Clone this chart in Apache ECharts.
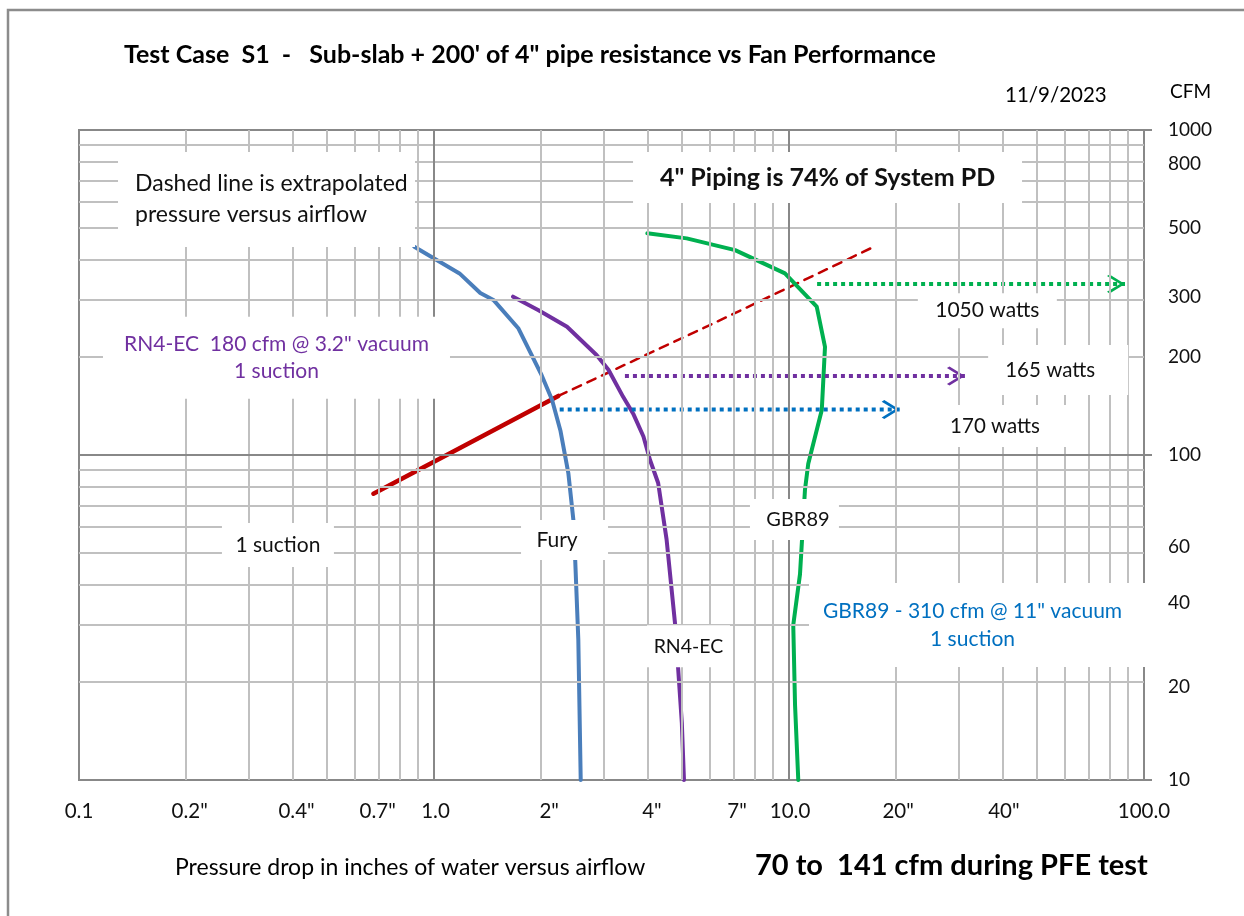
<!DOCTYPE html>
<html><head><meta charset="utf-8">
<script src="https://cdn.jsdelivr.net/npm/echarts@6/dist/echarts.min.js"></script>
<style>html,body{margin:0;padding:0;background:#fff}#c{width:1244px;height:916px}</style>
</head><body><div id="c"></div>
<script>
// ---- data (pressure in inches of water, airflow in CFM) ----
const furyPressure = [0.88, 1.18, 1.35, 1.47, 1.73, 2.01, 2.15, 2.27, 2.39, 2.47, 2.50, 2.55, 2.59];
const furyCfm      = [437, 362, 315, 300, 245, 176, 148, 119, 88, 63, 47, 27, 10];
const rn4Pressure  = [1.67, 1.97, 2.37, 2.87, 3.10, 3.41, 3.64, 3.89, 4.06, 4.28, 4.52, 4.78, 4.99, 5.06];
const rn4Cfm       = [307, 279, 248, 203, 183, 151, 134, 114, 96.5, 82, 55, 30, 15, 10];
const gbrPressure  = [3.99, 5.15, 7.05, 9.74, 11.97, 12.63, 12.37, 11.33, 11.09, 10.74, 10.28, 10.40, 10.62];
const gbrCfm       = [481, 464, 427, 362, 286, 215, 137.5, 94, 78, 43, 30, 17, 10];
const systemPressure = [0.675, 2.24];
const systemCfm      = [76, 152];
const extrapPressure = [2.24, 6.12, 17.25];
const extrapCfm      = [152, 254, 436];
// watt arrows: [startPressure, endPressure, cfm]
const gbrArrow  = [12.0, 88.4, 336];
const rn4Arrow  = [3.45, 31.3, 175];
const furyArrow = [2.26, 20.5, 138];
// axis tick labels
const xTickText = ['0.1', '0.2"', '0.4"', '0.7"', '1.0', '2"', '4"', '7"', '10.0', '20"', '40"', '100.0'];
const xTickAt   = [0.1, 0.205, 0.41, 0.694, 1.01, 2.11, 4.11, 7.14, 10.07, 20.3, 40.3, 100];
const yTickText = ['1000', '800', '500', '300', '200', '100', '60', '40', '20', '10'];
const yTickAt   = [1000, 786, 499, 306, 200, 100, 52.1, 35.0, 19.3, 10];
const xMinor = [0.2,0.3,0.4,0.5,0.6,0.7,0.8,0.9,2,3,4,5,6,7,8,9,20,30,40,50,60,70,80,90];
const xMajor = [1, 10];
const yMinor = [20,30,40,50,60,70,80,90,200,300,400,500,600,700,800,900];
const yMajor = [100];
// annotation texts and where they sit (pressure, cfm)
const noteText = [
  'Dashed line is extrapolated\npressure versus airflow',
  '4" Piping is 74% of System PD',
  'RN4-EC  180 cfm @ 3.2" vacuum\n1 suction',
  '1 suction', 'Fury', 'RN4-EC', 'GBR89',
  'GBR89 - 310 cfm @ 11" vacuum\n1 suction',
  '1050 watts', '165 watts', '170 watts'
];
const noteAt = [
  [0.1288, 611], [12.84, 714], [0.360, 199], [0.3634, 52.9], [2.332, 54.8],
  [5.21, 25.8], [10.36, 63.3], [34.3, 30.0], [36.2, 278], [57.3, 182.6], [40.6, 122.8]
];

// ---- styles ----
const FONT = 'Lato, "Open Sans", sans-serif';
const C = {blue:'#4a7ebb', purple:'#7030a0', green:'#00b050', red:'#c00000', dBlue:'#0070c0', grid:'#c0c0c0', dark:'#888888'};
const noteStyle = [
  {align:'left', padding:[21,0,12,17], width:280, fontSize:23, lineHeight:31},
  {align:'center', padding:[13,0,12,0], width:389, fontSize:25, lineHeight:26, fontWeight:'bold'},
  {align:'center', padding:[14,0,14,0], width:347, fontSize:21, lineHeight:27, color:C.purple},
  {align:'center', padding:[12,0,8,0], width:112, fontSize:21, lineHeight:24},
  {align:'center', padding:[13,15,3,0], width:72, fontSize:21, lineHeight:24},
  {align:'center', padding:[13,0,5,0], width:83, fontSize:19.5, lineHeight:24},
  {align:'center', padding:[11,0,6,7], width:82, fontSize:20, lineHeight:24},
  {align:'center', padding:[14,13,14,0], width:327, fontSize:21, lineHeight:28, color:C.dBlue},
  {align:'center', padding:[6,0,5,0], width:139, fontSize:21, lineHeight:24},
  {align:'center', padding:[20,16,6,0], width:124, fontSize:20.5, lineHeight:24},
  {align:'center', padding:[13,20,5,0], width:120, fontSize:20.5, lineHeight:24}
];

const zip = (xs, ys) => xs.map((x, i) => [x, ys[i]]);
const ARROW = 'path://M0,1.6 L2.6,0 L18,9.5 L2.6,19 L0,17.4 L13,9.5 Z';
function arrowSeries(a, color) {
  return {
    type:'line', z:4, silent:true, symbol:'none', animation:false,
    lineStyle:{color, width:4, type:[4,4]},
    data:[[a[0], a[2]], {value:[a[1], a[2]], symbol:ARROW, symbolSize:[18,19], symbolOffset:[-9,0], itemStyle:{color, opacity:1}}]
  };
}
function curve(xs, ys, color, width, dash) {
  return {type:'line', z:3, silent:true, symbol:'none', animation:false,
    lineStyle:{color, width, type: dash || 'solid', cap:'round', join:'round'}, data: zip(xs, ys)};
}
const gridLines = [];
const gl = (color) => ({color, width:2, type:'solid', opacity:1});
xMinor.forEach(v => gridLines.push({xAxis:v, lineStyle:gl(C.grid)}));
yMinor.forEach(v => gridLines.push({yAxis:v, lineStyle:gl(C.grid)}));
xMajor.forEach(v => gridLines.push({xAxis:v, lineStyle:gl(C.dark)}));
yMajor.forEach(v => gridLines.push({yAxis:v, lineStyle:gl(C.dark)}));

const labelScatter = (data) => ({type:'scatter', z:10, silent:true, clip:false, symbolSize:0,
  itemStyle:{opacity:1}, data});

const chart = echarts.init(document.getElementById('c'), null, {renderer:'canvas'});
chart.setOption({
  animation:false,
  backgroundColor:'#fff',
  textStyle:{fontFamily:FONT},
  grid:{left:79, right:100, top:130, bottom:136, show:true, borderColor:C.dark, borderWidth:2},
  xAxis:{type:'log', logBase:10, min:0.1, max:100,
    axisLine:{show:true, lineStyle:{color:C.dark, width:2}}, axisTick:{show:false},
    axisLabel:{show:false}, splitLine:{show:false}},
  yAxis:{type:'log', logBase:10, min:10, max:1000, position:'right',
    axisLine:{show:true, lineStyle:{color:C.dark, width:2}},
    axisTick:{show:true, inside:false, length:8, lineStyle:{color:C.dark, width:2}},
    axisLabel:{show:false}, splitLine:{show:false}},
  graphic:[
    {type:'rect', silent:true, shape:{x:8, y:10, width:1250, height:920}, style:{fill:'none', stroke:'#8c8c8c', lineWidth:2.5}},
    {type:'text', x:124, y:55, style:{text:'Test Case  S1  -   Sub-slab + 200\' of 4" pipe resistance vs Fan Performance', font:'bold 25px '+FONT, fill:'#000', verticalAlign:'middle'}},
    {type:'text', x:1005, y:95, style:{text:'11/9/2023', font:'20.5px '+FONT, fill:'#000', verticalAlign:'middle'}},
    {type:'text', x:1170, y:92, style:{text:'CFM', font:'19px '+FONT, fill:'#000', verticalAlign:'middle'}},
    {type:'text', x:175, y:868, style:{text:'Pressure drop in inches of water versus airflow', font:'23px '+FONT, fill:'#000', verticalAlign:'middle'}},
    {type:'text', x:755, y:866, style:{text:'70 to  141 cfm during PFE test', font:'bold 29px '+FONT, fill:'#000', verticalAlign:'middle'}}
  ],
  series:[
    {type:'line', data:[], z:1, silent:true, animation:false,
      markLine:{silent:true, symbol:['none','none'], label:{show:false}, animation:false, data:gridLines}},
    curve(systemPressure, systemCfm, C.red, 4.5),
    curve(extrapPressure, extrapCfm, C.red, 2.5, [9,7]),
    curve(furyPressure, furyCfm, C.blue, 4),
    curve(rn4Pressure, rn4Cfm, C.purple, 4),
    curve(gbrPressure, gbrCfm, C.green, 4),
    arrowSeries(gbrArrow, C.green),
    arrowSeries(rn4Arrow, C.purple),
    arrowSeries(furyArrow, C.dBlue),
    labelScatter(noteText.map((t, i) => ({
        value: noteAt[i],
        label: Object.assign({show:true, position:'inside', formatter:t, backgroundColor:'#fff', opacity:1,
          color:'#111', fontFamily:FONT, verticalAlign:'middle'}, noteStyle[i])
      }))),
    labelScatter(xTickAt.map((v, i) => ({value:[v, 10], label:{show:true, position:'inside', offset:[0,31], opacity:1,
        formatter:xTickText[i], color:'#111', fontSize:20.5, fontFamily:FONT}}))),
    labelScatter(yTickAt.map((v, i) => ({value:[100, v], label:{show:true, position:'inside', align:'left', offset:[24,0], opacity:1,
        formatter:yTickText[i], color:'#111', fontSize:19, fontFamily:FONT}})))
  ]
});
</script></body></html>
